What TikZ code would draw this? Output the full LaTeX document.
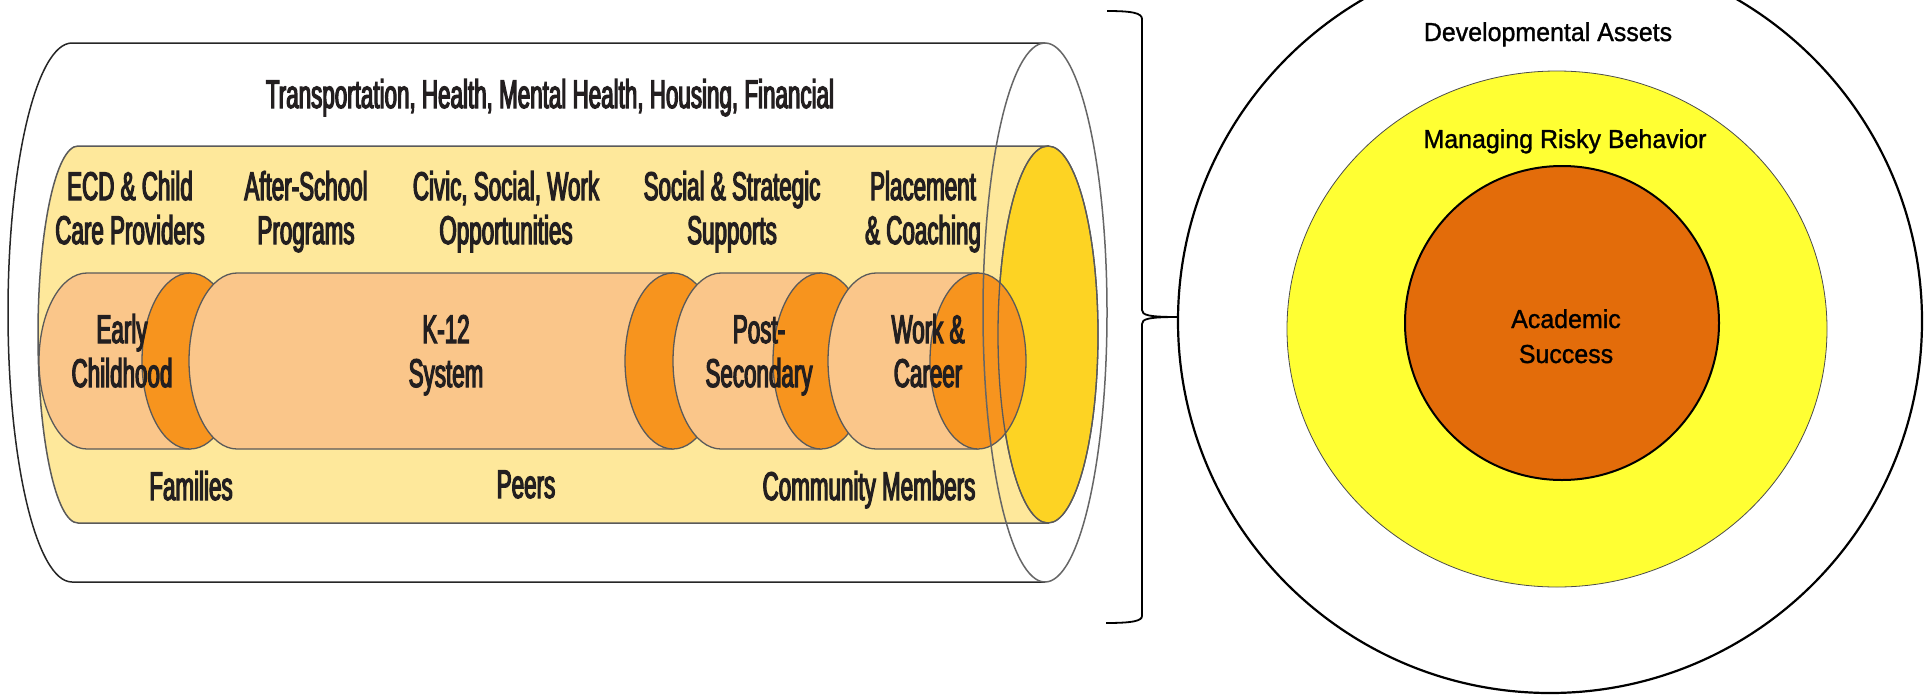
\documentclass[tikz,border=0pt]{standalone}
\usepackage{fontspec}
\setmainfont{Liberation Sans}
\newfontfamily\condfont[FakeStretch=0.56,FakeBold=3]{Liberation Sans}
\newfontfamily\circfont[FakeStretch=0.96,FakeBold=1.2]{Liberation Sans}
\definecolor{txtc}{RGB}{35,31,32}
\definecolor{bandy}{RGB}{254,232,155}
\definecolor{bodyo}{RGB}{250,198,138}
\definecolor{capo}{RGB}{247,148,30}
\definecolor{goldy}{RGB}{253,211,35}
\definecolor{tubeline}{RGB}{90,90,90}
\definecolor{ringy}{RGB}{255,255,51}
\definecolor{coreo}{RGB}{227,108,10}
\newcommand{\twoline}[2]{\begin{tabular}[t]{@{}c@{}}#1\\#2\end{tabular}}
\tikzset{
  lefttext/.style={font=\condfont\fontsize{40}{44}\selectfont, text=txtc, inner sep=0pt, anchor=base},
  circtext/.style={font=\circfont\fontsize{26}{35}\selectfont, text=black, inner sep=0pt, anchor=base},
  cylbody/.style={fill=bodyo, draw=tubeline, line width=1.3pt},
  cylcap/.style={fill=capo, draw=tubeline, line width=1.3pt},
}
\newcommand{\cylinder}[2]{%
  \filldraw[cylbody] (#2,273) -- (#1,273)
     arc[start angle=90, end angle=270, x radius=48pt, y radius=88pt] -- (#2,449) -- cycle;
  \filldraw[cylcap] (#2,361) ellipse[x radius=48pt, y radius=88pt];
}
\begin{document}
\begin{tikzpicture}[x=1pt, y=-1pt]
\useasboundingbox (0,0) rectangle (1931,694);

% outer tube
\filldraw[fill=white, draw=black!85, line width=1.5pt]
  (1045,43) -- (72,43) arc[start angle=90, end angle=270, x radius=64pt, y radius=269.5pt] -- (1045,582);

% yellow tube
\filldraw[fill=bandy, draw=tubeline, line width=1.5pt]
  (1048,146) -- (78,146) arc[start angle=90, end angle=270, x radius=40pt, y radius=188.5pt] -- (1048,523) -- cycle;
\filldraw[fill=goldy, draw=tubeline, line width=1.3pt] (1048,334.5) ellipse[x radius=50pt, y radius=188.5pt];

% cylinders
\cylinder{87}{190}
\cylinder{237}{673}
\cylinder{721}{821}
\cylinder{876}{978}

% end ellipses drawn on top
\draw[tubeline, line width=1.3pt] (1048,334.5) ellipse[x radius=50pt, y radius=188.5pt];
\draw[black!60, line width=1.5pt] (1045,312.5) ellipse[x radius=62pt, y radius=269.5pt];

% texts left
\node[lefttext] (trans) at (550,108) {Transportation, Health, Mental Health, Housing, Financial};
\node[lefttext] (ecd) at (130,200) {\twoline{ECD \& Child}{Care Providers}};
\node[lefttext] (after) at (306,200) {\twoline{After-School}{Programs}};
\node[lefttext] (civic) at (506,200) {\twoline{Civic, Social, Work}{Opportunities}};
\node[lefttext] (social) at (732,200) {\twoline{Social \& Strategic}{Supports}};
\node[lefttext] (place) at (923,200) {\twoline{Placement}{\& Coaching}};
\node[lefttext] (early) at (122,343) {\twoline{Early}{Childhood}};
\node[lefttext] (k12) at (446,343) {\twoline{K-12}{System}};
\node[lefttext] (post) at (759,343) {\twoline{Post-}{Secondary}};
\node[lefttext] (work) at (928,343) {\twoline{Work \&}{Career}};
\node[lefttext] (families) at (191,500) {Families};
\node[lefttext] (peers) at (526,498) {Peers};
\node[lefttext] (community) at (869,500) {Community Members};

% brace
\coordinate (bt) at (1107,11);
\coordinate (bb) at (1106,623);
\coordinate (tip) at (1178,317);
\draw[black, line width=1.8pt] (bt) .. controls (1132,11) and (1142,13) .. (1142,19)
  -- (1142,310) .. controls (1142,315) and (1148,317) .. (tip)
  .. controls (1148,317) and (1142,319) .. (1142,324)
  -- (1142,616) .. controls (1142,621) and (1132,623) .. (bb);

% circles
\draw[black, line width=2.2pt] (1550,321) circle[radius=372pt];
\filldraw[fill=ringy, draw=black!70, line width=0.8pt] (1557,329) ellipse[x radius=270pt, y radius=258pt];
\filldraw[fill=coreo, draw=black, line width=2pt] (1562,323) circle[radius=157pt];

\node[circtext] (dev) at (1548,41) {Developmental Assets};
\node[circtext] (manage) at (1565,148) {Managing Risky Behavior};
\node[circtext] (acad) at (1566,328) {\twoline{Academic}{Success}};
\end{tikzpicture}
\end{document}
